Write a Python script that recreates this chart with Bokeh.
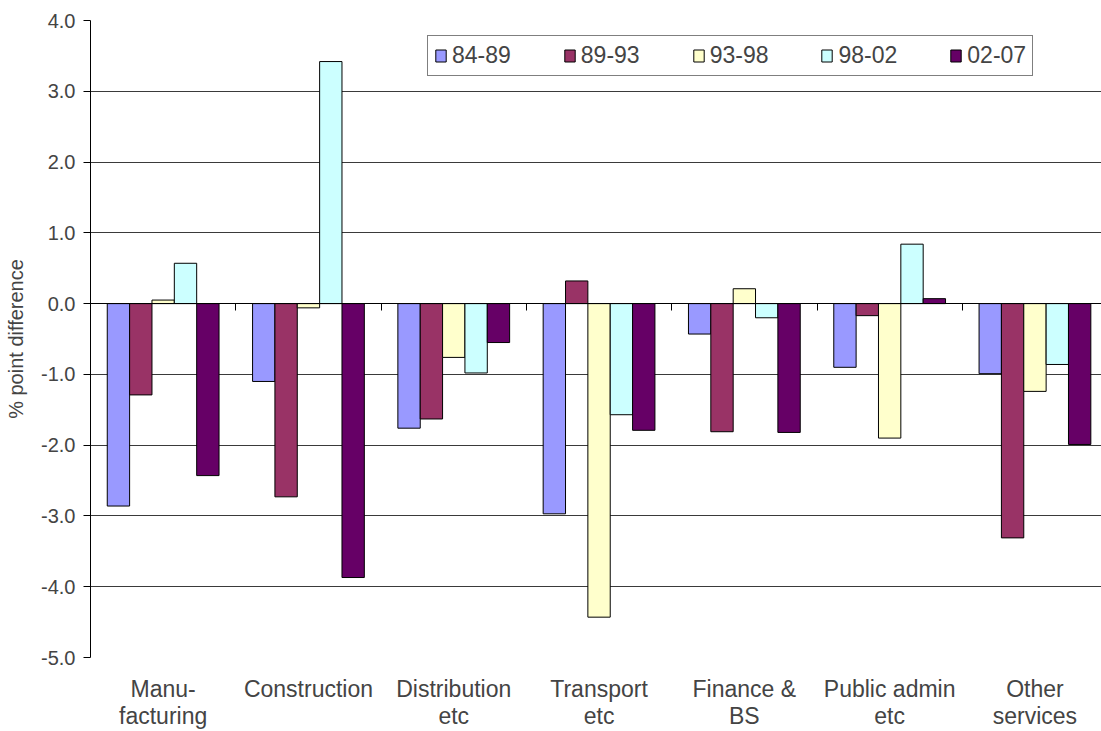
import numpy as np
from bokeh.plotting import figure
from bokeh.models import (ColumnDataSource, Range1d, FixedTicker, LinearAxis,
                          PrintfTickFormatter, Legend, LegendItem)
from bokeh.embed import file_html
from bokeh.resources import INLINE

# Sectors (x-axis categories)
categories = ["Manu-\nfacturing", "Construction", "Distribution\netc", "Transport\netc",
              "Finance &\nBS", "Public admin\netc", "Other\nservices"]

# Periods (series) and their bar colours
periods = ["84-89", "89-93", "93-98", "98-02", "02-07"]
colors = ["#9999FF", "#993366", "#FFFFCC", "#CCFFFF", "#660066"]

# % point difference per sector, one list per period
v_84_89 = [-2.86, -1.10, -1.76, -2.97, -0.43, -0.90, -0.99]
v_89_93 = [-1.29, -2.73, -1.63, 0.32, -1.81, -0.17, -3.31]
v_93_98 = [0.05, -0.06, -0.76, -4.43, 0.21, -1.90, -1.24]
v_98_02 = [0.57, 3.42, -0.98, -1.57, -0.20, 0.84, -0.86]
v_02_07 = [-2.43, -3.87, -0.55, -1.79, -1.82, 0.07, -1.99]
series = [v_84_89, v_89_93, v_93_98, v_98_02, v_02_07]

y_ticks = [-5, -4, -3, -2, -1, 0, 1, 2, 3, 4]

FONT = "Liberation Sans"
n_cat = len(categories)
n_ser = len(series)
bar_w = 1.0 / (n_ser + 1.5)          # clustered bars with a 150% gap
centers = np.arange(n_cat) + 0.5

p = figure(width=1101, height=731, output_backend="svg", toolbar_location=None,
           x_range=Range1d(0, 6.958), y_range=Range1d(-5, 4),
           min_border_left=90, min_border_right=0, min_border_top=20,
           min_border_bottom=74, background_fill_color="white",
           border_fill_color="white")
p.outline_line_color = None
p.xgrid.visible = False
p.ygrid.ticker = FixedTicker(ticks=y_ticks)
p.ygrid.grid_line_color = "#3a3a3a"
p.ygrid.grid_line_width = 1

items = []
for j, (vals, name, col) in enumerate(zip(series, periods, colors)):
    src = ColumnDataSource(dict(x=centers + (j - (n_ser - 1) / 2) * bar_w, top=vals))
    r = p.vbar(x="x", top="top", bottom=0, width=bar_w, source=src,
               fill_color=col, line_color="black", line_width=1)
    items.append(LegendItem(label=name, renderers=[r]))

# y axis
yax = p.yaxis[0]
yax.ticker = FixedTicker(ticks=y_ticks)
yax.formatter = PrintfTickFormatter(format="%.1f")
yax.axis_label = "% point difference"
yax.axis_label_text_font = FONT
yax.axis_label_text_font_size = "20px"
yax.axis_label_text_font_style = "normal"
yax.axis_label_standoff = 11
yax.major_label_text_font = FONT
yax.major_label_text_font_size = "20px"
yax.major_label_standoff = 8
yax.major_tick_in = 0
yax.major_tick_out = 7
yax.minor_tick_line_color = None
yax.axis_line_color = "black"
yax.major_tick_line_color = "black"

# category labels under the plot area
xax = p.xaxis[0]
xax.ticker = FixedTicker(ticks=list(centers))
xax.major_label_overrides = {float(c): lab for c, lab in zip(centers, categories)}
xax.major_label_text_font = FONT
xax.major_label_text_font_size = "23px"
xax.major_label_text_line_height = 1.05
xax.major_label_standoff = 12
xax.axis_line_color = None
xax.major_tick_line_color = None
xax.minor_tick_line_color = None

# category axis line drawn through zero, ticks between sectors
zero_axis = LinearAxis(fixed_location=0, ticker=FixedTicker(ticks=list(range(n_cat + 1))),
                       axis_line_color="black", major_tick_line_color="black",
                       major_tick_in=7, major_tick_out=0, minor_tick_line_color=None,
                       major_label_text_font_size="1px", major_label_text_alpha=0,
                       major_label_standoff=0)
p.add_layout(zero_axis, "above")

legend = Legend(items=items, orientation="horizontal", location=(337, 581),
                label_text_font=FONT, label_text_font_size="23px",
                glyph_width=13, glyph_height=15, label_standoff=5, spacing=52,
                padding=6, margin=0, border_line_color="black", border_line_width=1,
                background_fill_color="white", background_fill_alpha=1)
p.add_layout(legend, "center")

open("out.html", "w").write(file_html(p, INLINE))
